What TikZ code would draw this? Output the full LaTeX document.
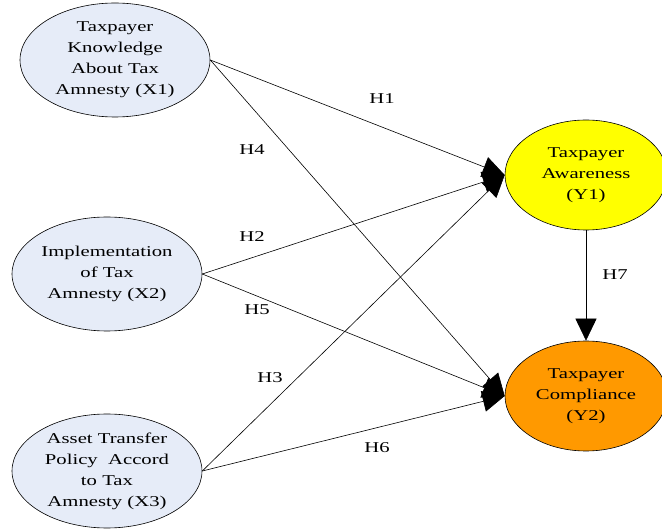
\documentclass[tikz,border=0pt]{standalone}
\usepackage{fontspec}
\setmainfont{Liberation Serif}[FakeStretch=1.38]
\usetikzlibrary{arrows.meta, shapes.geometric}

\definecolor{indblue}{RGB}{230,236,248}
\definecolor{awareyellow}{RGB}{255,255,0}
\definecolor{complyorange}{RGB}{255,153,0}

\begin{document}
\begin{tikzpicture}[x=1pt, y=-1pt,
    var/.style={ellipse, draw, line width=0.6pt, inner sep=0pt, align=center,
        minimum width=190pt, minimum height=114pt, font=\fontsize{15}{21}\selectfont},
    dep/.style={var, minimum width=162pt, minimum height=110pt},
    link/.style={-{Triangle[length=22pt,width=21pt]}, line width=0.6pt},
    hyp/.style={font=\fontsize{15}{18}\selectfont}]
    \useasboundingbox (0,0) rectangle (662,529);

    % Independent variables
    \node[var, fill=indblue] (x1) at (115,60) {Taxpayer\\Knowledge\\About Tax\\Amnesty (X1)};
    \node[var, fill=indblue] (x2) at (107,274) {Implementation\\of Tax\\Amnesty (X2)};
    \node[var, fill=indblue] (x3) at (107,471) {Asset Transfer\\Policy\ \ Accord\\to Tax\\Amnesty (X3)};

    % Dependent variables
    \node[dep, fill=awareyellow] (y1) at (586,175) {Taxpayer\\Awareness\\(Y1)};
    \node[dep, fill=complyorange] (y2) at (586,396) {Taxpayer\\Compliance\\(Y2)};

    % Paths
    \draw[link] (x1.east) -- (y1.west);
    \draw[link] (x1.east) -- (y2.west);
    \draw[link] (x2.east) -- (y1.west);
    \draw[link] (x2.east) -- (y2.west);
    \draw[link] (x3.east) -- (y1.west);
    \draw[link] (x3.east) -- (y2.west);
    \draw[link] (y1.south) -- (y2.north);

    % Hypotheses
    \node[hyp] (h1) at (382,99) {H1};
    \node[hyp] (h2) at (252,237) {H2};
    \node[hyp] (h3) at (270,378) {H3};
    \node[hyp] (h4) at (252,150) {H4};
    \node[hyp] (h5) at (257,310) {H5};
    \node[hyp] (h6) at (377,448) {H6};
    \node[hyp] (h7) at (615,275) {H7};
\end{tikzpicture}
\end{document}
